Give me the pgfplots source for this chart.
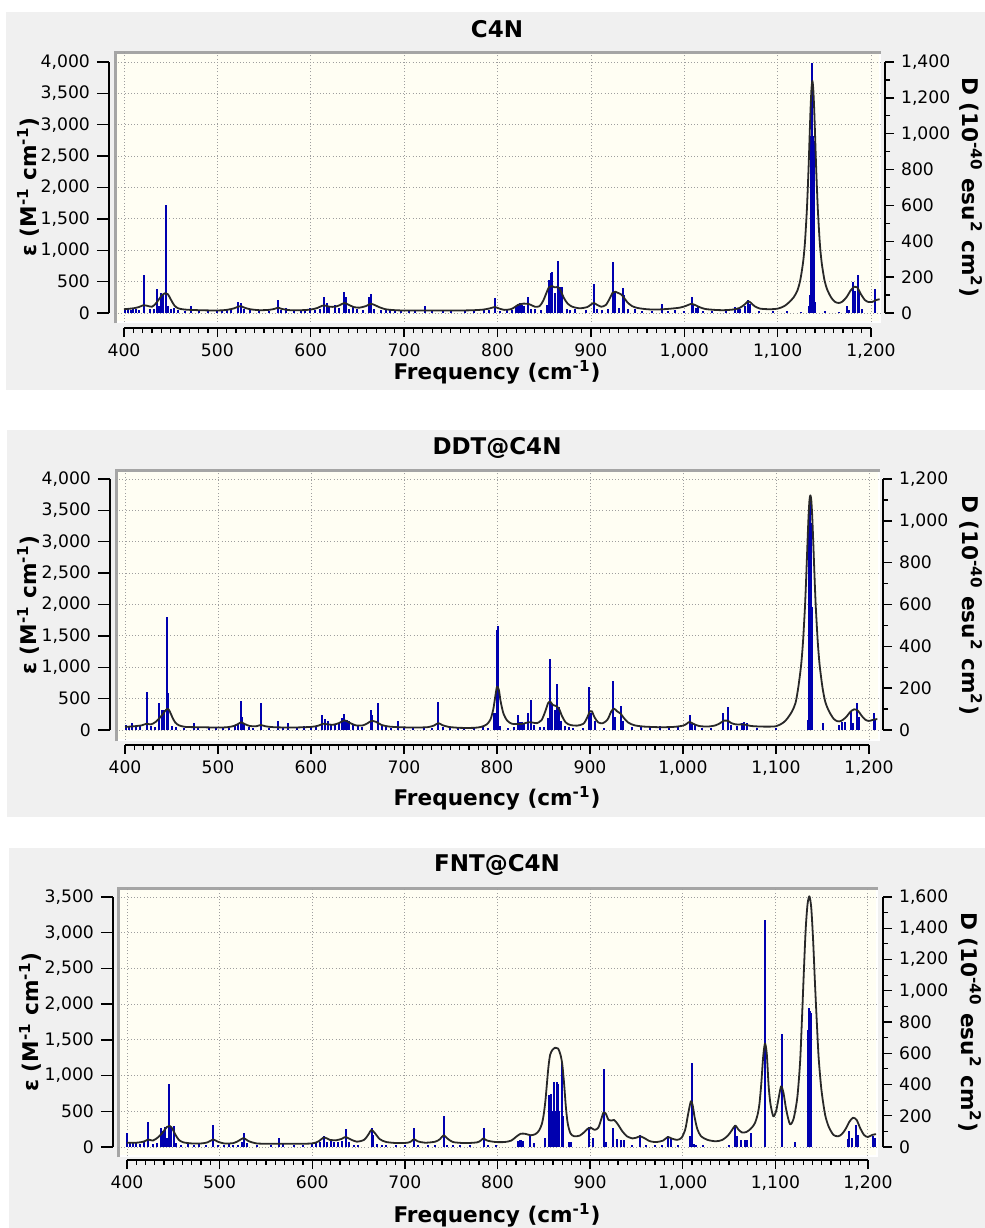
\documentclass[border=0pt]{standalone}
\usepackage{fontspec}
\setmainfont{DejaVu Sans}
\usepackage{pgfplots}
\usepackage{pgfplotstable}
\pgfplotsset{compat=1.18}
\newlength\px \setlength\px{0.5pt}
\definecolor{panelbg}{RGB}{240,240,240}
\definecolor{plotbg}{RGB}{255,254,243}
\definecolor{framegray}{RGB}{165,165,165}
\definecolor{stick}{RGB}{0,0,175}
\definecolor{curvec}{RGB}{40,40,40}

\pgfplotsset{
 base/.style={scale only axis, anchor=south west,
   /pgf/number format/assume math mode=true,
   tick label style={font=\fontsize{8.6}{10}\selectfont}},
 databox/.style={base, axis line style={draw=none},
   major tick length=0pt, minor tick length=0pt, tick style={draw=none},
   xtick=\empty, ytick=\empty},
 gridbox/.style={base, axis line style={draw=none},
   major tick length=0pt, minor tick length=0pt, tick style={draw=none},
   xticklabels={}, yticklabels={},
   xtick={400,500,...,1200}, ytick distance=500, grid=major,
   grid style={line width=0.9\px, color=black!38, dash pattern=on 1\px off 2.2\px}},
 rulerx/.style={base, height=1\px, xmin=400, xmax=1200, ymin=0, ymax=1,
   axis x line=bottom, axis y line=none, ytick=\empty,
   xtick distance=100, minor x tick num=9, tick align=outside,
   major tick length=9\px, minor tick length=5\px,
   axis line style={-, line width=1.6\px, black},
   major tick style={line width=1.4\px, black}, minor tick style={line width=1.2\px, black}},
 rulerl/.style={base, width=1\px, xmin=0, xmax=1, ymin=0,
   axis y line=left, axis x line=none, xtick=\empty,
   ytick distance=500, tick align=outside, major tick length=12\px,
   axis line style={-, line width=1.6\px, black},
   major tick style={line width=1.4\px, black}},
 rulerr/.style={base, anchor=south east, width=1\px, xmin=0, xmax=1, ymin=0,
   axis y line=right, axis x line=none, xtick=\empty,
   ytick distance=200, minor y tick num=1, tick align=outside,
   major tick length=9\px, minor tick length=5\px,
   axis line style={-, line width=1.6\px, black},
   major tick style={line width=1.4\px, black}, minor tick style={line width=1.2\px, black}},
 sticks/.style={ycomb, color=stick, line width=2\px},
 spec/.style={color=curvec, line width=1.8\px, line join=round, smooth, tension=0.45},
}

% ---------------- Panel 1: C4N ----------------
\pgfplotstableread{
f v
401 20
404 25
407 15
410 30
413 20
416 15
421.7 212
428 20
432 25
435 134
437 40
439.6 110
442 108
444.6 602
447 40
450 25
453.9 30
458 15
465 12
471.7 38
480 10
490 12
500 15
505 12
510 15
515 20
522.4 63
525 58
528 20
535 15
545 10
555 12
564.5 72
568 15
574 30
582 10
590 15
594 25
599 28
605 15
610 20
614 91
617 55
620 40
626 45
630 30
635.5 115
637.3 91
641 25
645 35
650 20
656 15
662.5 91
665 108
668 25
675 15
680 20
685 15
690 18
697 12
705 15
712 10
722 40
730 15
742 18
750 12
765 15
775 10
785 18
791 15
797 82
803 12
810 18
815 15
820 35
822 50
824 54
826 45
828 40
832.9 91
836 20
840 25
846 15
852.6 45
855.4 184
857.2 221
858.6 228
861 112
865 290
866.8 145
869 145
874 25
878 15
883 25
895 15
903 160
906 20
912 15
918 20
923.9 283
925.7 120
930 30
933.9 141
935.7 100
940 20
947 22
955 10
965 12
975.7 50
982 10
990 15
1000 12
1007.8 91
1009.6 50
1012 30
1015 38
1020 12
1030 10
1045 10
1054 35
1057 20
1060 22
1064.5 40
1068.4 72
1070 50
1080 10
1095 10
1110 10
1125 8
1133.7 40
1134.7 100
1135.5 985
1136.3 985
1137.1 1395
1137.9 985
1138.7 960
1139.5 60
1150 10
1165 8
1173.7 41
1176 15
1180.9 171
1182.6 123
1185.5 212
1187 110
1190 20
1204 135
}\sticksA

\pgfplotstableread{
f v
400 60
410 75
416 95
421 125
425 115
430 100
434 150
438 230
441 290
444 315
447 300
450 220
454 120
458 75
465 55
480 45
500 40
510 50
518 75
522 100
525 110
529 85
535 60
545 45
555 50
561 65
565 85
569 65
578 45
590 45
600 55
607 80
612 115
615 120
620 100
626 100
631 125
636 160
640 135
646 95
652 85
659 110
664 145
668 130
673 95
680 60
690 45
700 40
720 40
740 40
760 40
775 45
785 55
792 75
797 95
801 75
807 50
814 60
818 90
822 130
828 150
834 140
840 100
845 110
849 200
852 310
855 410
858 430
861 410
865 410
868 340
871 240
875 150
880 100
888 75
896 95
900 135
903 160
906 135
911 100
916 130
920 230
923 320
926 340
929 320
932 300
935 250
939 170
944 110
950 80
960 60
970 55
982 65
995 85
1002 115
1007 145
1011 130
1016 95
1022 65
1032 50
1042 45
1052 55
1059 80
1064 130
1068 185
1071 165
1075 110
1081 70
1092 60
1100 70
1107 110
1112 170
1117 250
1121 360
1124 520
1127 800
1129 1110
1131 1610
1132 1950
1133 2340
1134 2790
1135 3230
1136 3560
1137 3700
1138 3560
1139 3230
1140 2790
1141 2340
1142 1950
1143 1610
1145 1110
1147 800
1150 520
1153 370
1157 250
1161 180
1165 160
1169 180
1174 260
1178 360
1182 420
1185 410
1189 300
1193 210
1197 175
1201 175
1205 205
1209 220
}\curveA

% ---------------- Panel 2: DDT@C4N ----------------
\pgfplotstableread{
f v
401 25
404 20
408 35
412 15
416 20
423.3 183
428 20
432 15
436.6 128
439.3 96
442 96
444.8 539
446.6 175
450 20
455 15
463 10
474.5 35
478 15
490 10
498 10
505 12
512 10
518 20
522 30
524.7 140
526 64
528 35
533 15
538 12
546.2 128
555 10
564.9 45
570 15
575.6 35
585 12
593 20
600 15
605 20
612.2 72
615 55
618 45
622 30
626 25
630 35
633 56
635.8 75
637 50
639 48
641 45
645 25
650 20
655 15
664.5 96
666 70
672.4 131
676 20
681 15
686 12
693.9 45
700 12
710 10
722 15
730 12
737 132
742 15
750 12
758 15
765 10
775 12
785 15
790 10
796.8 80
798.2 81
800.2 480
801.4 497
803 20
812 10
818 15
823 72
825 40
827 40
829 35
833.7 81
836.6 143
840 25
846 15
851 15
855.2 56
857 338
858.8 124
862 95
864.9 220
867 110
869 45
873 20
877 15
882 12
892 10
899.3 207
901.6 80
905 45
915 10
925 234
927 60
933 115
936 45
945 15
955 15
965 12
975 20
985 12
995 15
1007.5 72
1010 30
1013 25
1020 10
1030 10
1042.7 81
1048.7 112
1052 25
1058 20
1063 35
1066 38
1069 35
1080 10
1100 8
1134.5 50
1135.5 990
1136.6 1119
1137.6 990
1138.6 590
1150.9 32
1168 25
1171 40
1174 40
1180.6 88
1183 35
1186.8 128
1189 60
1205.4 81
1207 50
}\sticksB

\pgfplotstableread{
f v
400 50
410 60
418 75
423 100
428 90
433 130
437 190
441 260
444 320
446 340
448 300
451 200
454 120
458 75
465 50
480 45
500 40
510 45
517 65
522 100
525 125
528 100
534 65
541 60
546 80
551 60
560 45
580 40
600 50
608 70
613 100
618 90
624 85
630 110
636 155
641 120
648 75
656 75
661 110
665 145
670 130
676 80
684 55
695 45
710 40
725 45
732 70
737 110
741 80
748 50
760 35
775 35
783 50
789 90
793 170
796 330
798 520
800 690
802 640
804 450
807 260
811 150
816 100
822 95
828 100
834 125
838 120
843 110
848 160
852 300
855 430
857.5 450
860 400
864 380
867 330
870 220
874 120
879 80
886 70
893 100
897 200
900 300
902 300
905 200
909 120
914 110
919 170
923 300
926 340
929 300
933 260
936 200
941 120
948 75
958 55
975 45
990 50
1000 70
1004 100
1007 130
1011 100
1017 65
1027 55
1035 75
1040 110
1044 150
1048 150
1052 110
1057 90
1062 90
1067 85
1073 65
1085 55
1100 60
1108 120
1112 180
1117 290
1121 430
1124 680
1127 1030
1129 1390
1131 1910
1132 2240
1133 2630
1134 3030
1135 3400
1136 3660
1137 3740
1138 3660
1139 3400
1140 3030
1141 2630
1142 2240
1143 1910
1145 1390
1147 1030
1150 680
1153 450
1157 300
1162 180
1166 140
1170 145
1175 200
1180 290
1184 330
1188 310
1192 230
1196 165
1200 145
1205 165
1209 175
}\curveB

% ---------------- Panel 3: FNT@C4N ----------------
\pgfplotstableread{
f v
399.7 92
403 25
406 30
410 25
414 20
418 30
423 162
428 20
432 25
436.4 119
438.5 100
441 125
443 60
445.4 401
448 130
450.9 135
453 25
458 15
466 20
472 15
478 20
485 12
493.2 141
498 15
505 15
510 20
515 12
520 15
524 30
526.7 92
530 25
540 10
555 10
564.5 55
568 20
580 10
590 15
600 20
604 25
608 30
613 70
616 35
620 40
624 35
628 30
632 40
636.2 113
640 35
645 15
650 12
664.2 120
666 80
670 20
675 15
680 15
690 12
700 10
710.3 120
714 15
725 12
733 15
742.3 201
746 15
752 12
760 15
770 10
785.5 120
790 15
798 10
822 40
824 45
826 45
828 40
835.2 77
840 25
851.4 55
856 333
857.5 341
860 230
861.5 418
863 230
864.2 418
865.8 405
867 230
869.4 546
871 200
877 30
880 30
899.2 130
903.5 60
915.1 497
917 30
925.2 120
929 50
933 45
937 45
945 15
954 77
960 15
970 12
978 15
984.6 70
987 50
995 12
1008 70
1009.8 535
1012 20
1015 15
1022 10
1050 10
1056.6 141
1059 70
1063 45
1067 45
1070 45
1073.5 90
1089 1453
1107 722
1121.4 32
1135.8 750
1136.8 890
1137.8 870
1138.8 860
1179 50
1180 100
1183 60
1187.3 141
1189 80
1206 70
1208 60
}\sticksC

\pgfplotstableread{
f v
400 60
410 60
418 75
423 105
428 90
434 140
439 210
443 280
446 295
449 260
452 180
456 100
461 65
470 50
480 50
487 65
493 105
498 75
505 50
515 55
521 90
526 125
531 85
540 50
560 45
580 45
600 50
607 80
613 135
619 100
626 95
632 115
636 140
641 110
648 75
656 100
661 180
664 240
668 190
673 110
680 70
692 55
703 60
707 80
710 110
714 80
722 60
733 75
738 110
742 165
746 120
752 70
765 55
778 65
782 90
785 120
789 90
798 70
808 70
815 90
820 140
825 185
830 185
836 165
841 180
845 230
848 320
850 450
852 660
855 1100
857 1290
859.5 1360
862.5 1390
865.5 1380
868 1300
870 1170
872 900
874 560
876 330
879 190
883 150
889 160
894 210
898 260
901 270
905 240
909 270
912 380
914.5 480
917 470
920 380
923 370
926 380
930 320
935 220
940 150
946 120
950 130
954 150
958 130
965 80
972 70
979 90
984 140
988 120
994 100
999 130
1003 250
1006 460
1009 640
1011 580
1013 420
1016 250
1020 150
1027 100
1036 80
1043 100
1049 160
1053 230
1057 300
1060 250
1064 205
1069 210
1074 260
1078 330
1081 450
1083 600
1085 880
1087 1250
1089 1450
1091 1300
1093 850
1095 600
1098 430
1101 500
1104 700
1106.5 850
1109 760
1112 520
1116 320
1120 400
1124 700
1127 1200
1129 1800
1131 2450
1133 3050
1135 3400
1137 3510
1139 3350
1141 2900
1143 2300
1145 1750
1147 1250
1150 800
1154 450
1158 280
1163 170
1168 150
1172 180
1176 250
1180 350
1184 410
1188 380
1192 260
1196 170
1200 140
1205 170
1209 180
}\curveC

\newcommand\ttl[1]{{\bfseries\fontsize{11.5}{13}\selectfont #1}}
\newcommand\lbl{\bfseries\fontsize{10.8}{12}\selectfont}

\begin{document}
\begin{tikzpicture}
\useasboundingbox (0,0) rectangle (985\px,-1228\px);
\fill[white] (0,0) rectangle (985\px,-1228\px);
% panel backgrounds
\fill[panelbg] (6\px,-12\px) rectangle (985\px,-390\px);
\fill[panelbg] (7\px,-430\px) rectangle (985\px,-817\px);
\fill[panelbg] (9\px,-848\px) rectangle (985\px,-1228\px);
% plot areas
\fill[plotbg] (115\px,-52\px) rectangle (880\px,-322\px);
\draw[white, line width=2\px] (115\px,-322\px) -- (880\px,-322\px) -- (880\px,-52\px);
\draw[framegray, line width=3\px] (115\px,-323\px) -- (115\px,-52\px) -- (881\px,-52\px);
\fill[plotbg] (116\px,-470\px) rectangle (879\px,-740\px);
\draw[white, line width=2\px] (116\px,-740\px) -- (879\px,-740\px) -- (879\px,-470\px);
\draw[framegray, line width=3\px] (116\px,-741\px) -- (116\px,-470\px) -- (880\px,-470\px);
\fill[plotbg] (118\px,-888\px) rectangle (877\px,-1156\px);
\draw[white, line width=2\px] (118\px,-1156\px) -- (877\px,-1156\px) -- (877\px,-888\px);
\draw[framegray, line width=3\px] (118\px,-1157\px) -- (118\px,-888\px) -- (878\px,-888\px);

% ===== Panel 1 =====
\begin{axis}[gridbox, at={(115\px,-322\px)}, width=765\px, height=270\px,
  xmin=390.4, xmax=1209.4, ymin=-143.5, ymax=4160]
\end{axis}
\begin{axis}[databox, at={(115\px,-322\px)}, width=765\px, height=270\px,
  xmin=390.4, xmax=1209.4, ymin=-50.2, ymax=1456]
\addplot[sticks] table[x=f, y=v] {\sticksA};
\end{axis}
\begin{axis}[databox, at={(115\px,-322\px)}, width=765\px, height=270\px,
  xmin=390.4, xmax=1209.4, ymin=-143.5, ymax=4160]
\addplot[spec] table[x=f, y=v] {\curveA};
\end{axis}
\begin{axis}[rulerx, at={(124\px,-328\px)}, width=747\px]
\end{axis}
\begin{axis}[rulerl, at={(109\px,-313\px)}, height=251\px, ymax=4000]
\end{axis}
\begin{axis}[rulerr, at={(885\px,-313\px)}, height=251\px, ymax=1400]
\end{axis}
\node at (497\px,-29\px) {\ttl{C4N}};
\node[font=\lbl] at (497\px,-372\px) {Frequency (cm\textsuperscript{-1})};
\node[font=\lbl, rotate=90] at (28\px,-187\px) {ε (M\textsuperscript{-1} cm\textsuperscript{-1})};
\node[font=\lbl, rotate=-90] at (971\px,-187\px) {D (10\textsuperscript{-40} esu\textsuperscript{2} cm\textsuperscript{2})};

% ===== Panel 2 =====
\begin{axis}[gridbox, at={(116\px,-740\px)}, width=763\px, height=270\px,
  xmin=390.3, xmax=1210.8, ymin=-159, ymax=4144]
\end{axis}
\begin{axis}[databox, at={(116\px,-740\px)}, width=763\px, height=270\px,
  xmin=390.3, xmax=1210.8, ymin=-47.8, ymax=1243]
\addplot[sticks] table[x=f, y=v] {\sticksB};
\end{axis}
\begin{axis}[databox, at={(116\px,-740\px)}, width=763\px, height=270\px,
  xmin=390.3, xmax=1210.8, ymin=-159, ymax=4144]
\addplot[spec] table[x=f, y=v] {\curveB};
\end{axis}
\begin{axis}[rulerx, at={(125\px,-745\px)}, width=744\px]
\end{axis}
\begin{axis}[rulerl, at={(110\px,-730\px)}, height=251\px, ymax=4000]
\end{axis}
\begin{axis}[rulerr, at={(883\px,-730\px)}, height=251\px, ymax=1200]
\end{axis}
\node at (497\px,-448\px) {\ttl{DDT@C4N}};
\node[font=\lbl] at (497\px,-798\px) {Frequency (cm\textsuperscript{-1})};
\node[font=\lbl, rotate=90] at (28\px,-605\px) {ε (M\textsuperscript{-1} cm\textsuperscript{-1})};
\node[font=\lbl, rotate=-90] at (971\px,-605\px) {D (10\textsuperscript{-40} esu\textsuperscript{2} cm\textsuperscript{2})};

% ===== Panel 3 =====
\begin{axis}[gridbox, at={(118\px,-1156\px)}, width=759\px, height=268\px,
  xmin=390.3, xmax=1210, ymin=-126, ymax=3626]
\end{axis}
\begin{axis}[databox, at={(118\px,-1156\px)}, width=759\px, height=268\px,
  xmin=390.3, xmax=1210, ymin=-57.6, ymax=1657.6]
\addplot[sticks] table[x=f, y=v] {\sticksC};
\end{axis}
\begin{axis}[databox, at={(118\px,-1156\px)}, width=759\px, height=268\px,
  xmin=390.3, xmax=1210, ymin=-126, ymax=3626]
\addplot[spec] table[x=f, y=v] {\curveC};
\end{axis}
\begin{axis}[rulerx, at={(127\px,-1160\px)}, width=741\px]
\end{axis}
\begin{axis}[rulerl, at={(113\px,-1147\px)}, height=250\px, ymax=3500]
\end{axis}
\begin{axis}[rulerr, at={(883\px,-1147\px)}, height=250\px, ymax=1600]
\end{axis}
\node at (497\px,-865\px) {\ttl{FNT@C4N}};
\node[font=\lbl] at (497\px,-1215\px) {Frequency (cm\textsuperscript{-1})};
\node[font=\lbl, rotate=90] at (30\px,-1022\px) {ε (M\textsuperscript{-1} cm\textsuperscript{-1})};
\node[font=\lbl, rotate=-90] at (970\px,-1022\px) {D (10\textsuperscript{-40} esu\textsuperscript{2} cm\textsuperscript{2})};
\end{tikzpicture}
\end{document}
